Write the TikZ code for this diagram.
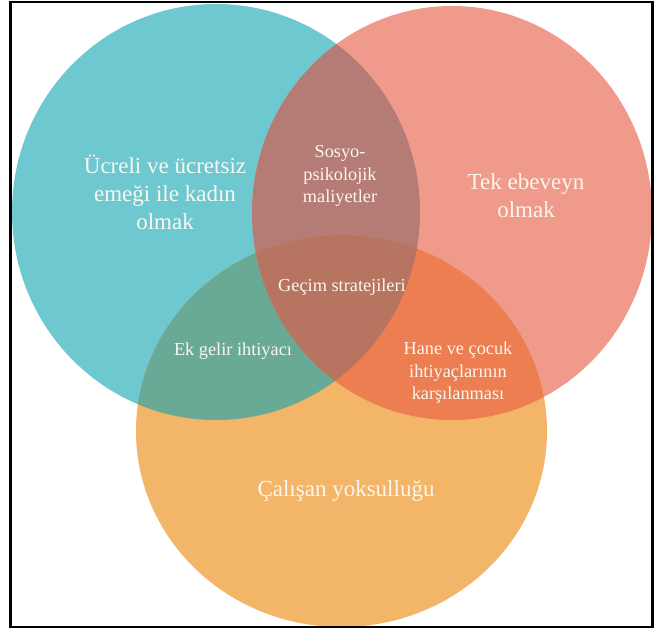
\documentclass[tikz,border=0pt]{standalone}
\usepackage{fontspec}
\setmainfont{Liberation Serif}
\definecolor{cteal}{RGB}{110,200,208}
\definecolor{csalmon}{RGB}{239,154,138}
\definecolor{corange}{RGB}{243,181,103}
\definecolor{cts}{RGB}{180,124,117}
\definecolor{cto}{RGB}{104,170,150}
\definecolor{cso}{RGB}{237,126,82}
\definecolor{call}{RGB}{183,116,96}
\definecolor{ctext}{RGB}{252,246,238}
\tikzset{
  bigtxt/.style={text=ctext, align=center, font=\fontsize{23}{28}\selectfont, inner sep=0pt},
  smalltxt/.style={text=ctext, align=center, font=\fontsize{18.3}{22.5}\selectfont, inner sep=0pt},
}
\newcommand{\shapeA}{(216,212) ellipse [x radius=204pt, y radius=208pt]}
\newcommand{\shapeB}{(452,213) ellipse [x radius=200pt, y radius=207pt]}
\newcommand{\shapeC}{(341.5,431) ellipse [x radius=205.5pt, y radius=196pt]}
\begin{document}
\begin{tikzpicture}[x=1pt,y=-1pt]
\useasboundingbox (0,0) rectangle (656,634);
\fill[white] (0,0) rectangle (656,634);
% base circles
\fill[cteal] \shapeA;
\fill[csalmon] \shapeB;
\fill[corange] \shapeC;
% pairwise overlaps
\begin{scope}\clip \shapeA; \fill[cts] \shapeB; \end{scope}
\begin{scope}\clip \shapeA; \fill[cto] \shapeC; \end{scope}
\begin{scope}\clip \shapeB; \fill[cso] \shapeC; \end{scope}
% triple overlap
\begin{scope}\clip \shapeA; \clip \shapeB; \fill[call] \shapeC; \end{scope}
% frame
\draw[black, line width=2.2pt] (10.5,2) rectangle (652.5,627);
% labels
\node[bigtxt] (ucret) at (165,192) {Ücreli ve ücretsiz\\emeği ile kadın\\olmak};
\node[bigtxt] (tek) at (526,196) {Tek ebeveyn\\olmak};
\node[bigtxt] (calis) at (346,491) {Çalışan yoksulluğu};
\node[smalltxt] (sosyo) at (340,176) {Sosyo-\\psikolojik\\maliyetler};
\node[smalltxt] (gecim) at (342,287) {Geçim stratejileri};
\node[smalltxt] (ekgelir) at (233,351) {Ek gelir ihtiyacı};
\node[smalltxt] (hane) at (458,373) {Hane ve çocuk\\ihtiyaçlarının\\karşılanması};
\end{tikzpicture}
\end{document}
